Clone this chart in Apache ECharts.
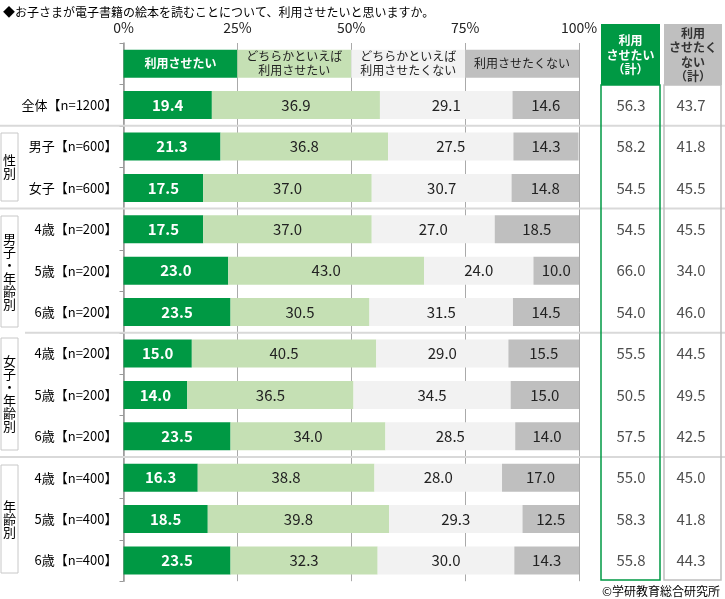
<!DOCTYPE html>
<html>
<head>
<meta charset="utf-8">
<script src="https://cdn.jsdelivr.net/npm/echarts@6/dist/echarts.min.js"></script>
<style>
  html, body { margin: 0; padding: 0; background: #fff; }
  #main { width: 725px; height: 599px; }
</style>
</head>
<body>
<div id="main"></div>
<script>
// 行ラベル
var rowLabels = ['全体【n=1200】', '男子【n=600】', '女子【n=600】',
  '4歳【n=200】', '5歳【n=200】', '6歳【n=200】',
  '4歳【n=200】', '5歳【n=200】', '6歳【n=200】',
  '4歳【n=400】', '5歳【n=400】', '6歳【n=400】'];
var seriesNames = ['利用させたい', 'どちらかといえば\n利用させたい', 'どちらかといえば\n利用させたくない', '利用させたくない'];
var want = [19.4, 21.3, 17.5, 17.5, 23.0, 23.5, 15.0, 14.0, 23.5, 16.3, 18.5, 23.5];
var ratherWant = [36.9, 36.8, 37.0, 37.0, 43.0, 30.5, 40.5, 36.5, 34.0, 38.8, 39.8, 32.3];
var ratherNot = [29.1, 27.5, 30.7, 27.0, 24.0, 31.5, 29.0, 34.5, 28.5, 28.0, 29.3, 30.0];
var notWant = [14.6, 14.3, 14.8, 18.5, 10.0, 14.5, 15.5, 15.0, 14.0, 17.0, 12.5, 14.3];
var totalWant = [56.3, 58.2, 54.5, 54.5, 66.0, 54.0, 55.5, 50.5, 57.5, 55.0, 58.3, 55.8];
var totalNot = [43.7, 41.8, 45.5, 45.5, 34.0, 46.0, 44.5, 49.5, 42.5, 45.0, 41.8, 44.3];
var xTicks = [0, 25, 50, 75, 100];

var FONT = '"Noto Sans CJK JP", "Noto Sans", sans-serif';
var colors = ['#009944', '#c5e0b4', '#f2f2f2', '#bfbfbf'];
var GT = 43, ROWH = 41.4;   // グリッド上端と行の高さ

var myChart = echarts.init(document.getElementById('main'));

var allRows = [''].concat(rowLabels);
var values = [want, ratherWant, ratherNot, notWant];

// 積み上げ棒（先頭行は凡例の代わり）
var barSeries = values.map(function (arr, i) {
  var data = [{
    value: 25,
    label: {
      formatter: seriesNames[i],
      fontSize: 12,
      lineHeight: 14,
      fontWeight: i === 0 ? 'bold' : 'normal'
    }
  }].concat(arr);
  return {
    name: seriesNames[i],
    type: 'bar',
    stack: 'total',
    barWidth: 28,
    xAxisIndex: 0,
    yAxisIndex: 0,
    itemStyle: { color: colors[i] },
    label: {
      show: true,
      position: 'inside',
      fontFamily: FONT,
      fontSize: 15,
      color: i === 0 ? '#fff' : '#222',
      fontWeight: i === 0 ? 'bold' : 'normal',
      formatter: function (p) { return p.value.toFixed(1); }
    },
    data: data
  };
});

var totalData = [];
rowLabels.forEach(function (r, k) {
  totalData.push([0, k + 1, totalWant[k]]);
  totalData.push([1, k + 1, totalNot[k]]);
});

// 区切り線
function sepY(n) { return GT + n * ROWH; }
var lines = [[2, 0], [4, 0], [7, 25], [10, 0]].map(function (s) {
  return {
    type: 'line',
    shape: { x1: s[1], y1: sepY(s[0]), x2: 725, y2: sepY(s[0]) },
    style: { stroke: '#d9d9d9', lineWidth: 2 },
    z: 5
  };
});

function groupBox(y1, y2, txt) {
  return [{
    type: 'rect',
    shape: { x: 1, y: y1, width: 17, height: y2 - y1 },
    style: { fill: '#fff', stroke: '#c8c8c8', lineWidth: 1 },
    z: 6
  }, {
    type: 'text',
    x: 9.5, y: (y1 + y2) / 2,
    style: {
      text: txt.split('').join('\n'),
      align: 'center', verticalAlign: 'middle',
      fontSize: 13, lineHeight: 13, fontFamily: FONT, fill: '#000'
    },
    z: 7
  }];
}

var graphics = [
  {
    type: 'text', x: 3, y: 12,
    style: { text: '◆お子さまが電子書籍の絵本を読むことについて、利用させたいと思いますか。',
      verticalAlign: 'middle', fontSize: 12, fontFamily: FONT, fill: '#000' }
  },
  // 右側の列
  { type: 'rect', shape: { x: 601, y: 85, width: 59, height: 495 },
    style: { fill: 'none', stroke: '#009944', lineWidth: 1.5 }, z: 8 },
  { type: 'rect', shape: { x: 664, y: 85, width: 57, height: 495 },
    style: { fill: 'none', stroke: '#bfbfbf', lineWidth: 1.5 }, z: 8 },
  { type: 'rect', shape: { x: 601, y: 24, width: 59, height: 61 },
    style: { fill: '#009944' }, z: 8 },
  { type: 'rect', shape: { x: 664, y: 24, width: 58, height: 61 },
    style: { fill: '#bfbfbf' }, z: 8 },
  { type: 'text', x: 630.5, y: 55,
    style: { text: '利用\nさせたい\n（計）', align: 'center', verticalAlign: 'middle',
      fontSize: 12, lineHeight: 14.5, fontWeight: 'bold', fontFamily: FONT, fill: '#fff' }, z: 9 },
  { type: 'text', x: 693, y: 55,
    style: { text: '利用\nさせたく\nない\n（計）', align: 'center', verticalAlign: 'middle',
      fontSize: 12, lineHeight: 14.5, fontWeight: 'bold', fontFamily: FONT, fill: '#333' }, z: 9 },
  {
    type: 'text', x: 720, y: 591,
    style: { text: '©学研教育総合研究所', align: 'right', verticalAlign: 'middle',
      fontSize: 12, fontFamily: FONT, fill: '#000' }
  }
].concat(lines)
  .concat(groupBox(133, 201, '性別'))
  .concat(groupBox(216, 327, '男子・年齢別'))
  .concat(groupBox(338, 450, '女子・年齢別'))
  .concat(groupBox(465, 573, '年齢別'));

myChart.setOption({
  animation: false,
  textStyle: { fontFamily: FONT },
  grid: [
    { left: 123.5, right: 146, top: GT, height: ROWH * 13 },
    { left: 601, width: 120, top: GT, height: ROWH * 13 }
  ],
  xAxis: [{
    type: 'value',
    gridIndex: 0,
    position: 'top',
    min: xTicks[0],
    max: xTicks[xTicks.length - 1],
    interval: 25,
    axisLine: { show: false },
    axisTick: { show: false },
    axisLabel: { formatter: '{value}%', fontSize: 14, color: '#222', margin: 8, fontFamily: FONT },
    splitLine: { show: true, lineStyle: { color: '#aaaaaa', width: 1 } }
  }, {
    type: 'category',
    gridIndex: 1,
    data: ['計1', '計2'],
    show: false
  }],
  yAxis: [{
    type: 'category',
    gridIndex: 0,
    inverse: true,
    data: allRows,
    axisLine: { show: true, lineStyle: { color: '#999', width: 1.5 } },
    axisTick: { show: true, length: 4, lineStyle: { color: '#999' } },
    axisLabel: { fontSize: 13, color: '#000', margin: 6, fontFamily: FONT }
  }, {
    type: 'category',
    gridIndex: 1,
    inverse: true,
    data: allRows,
    show: false
  }],
  series: barSeries.concat([{
    type: 'scatter',
    xAxisIndex: 1,
    yAxisIndex: 1,
    symbolSize: 0,
    label: {
      show: true,
      position: 'inside',
      fontSize: 15,
      color: '#222',
      fontFamily: FONT,
      formatter: function (p) { return p.value[2].toFixed(1); }
    },
    data: totalData
  }]),
  graphic: graphics
});
</script>
</body>
</html>
